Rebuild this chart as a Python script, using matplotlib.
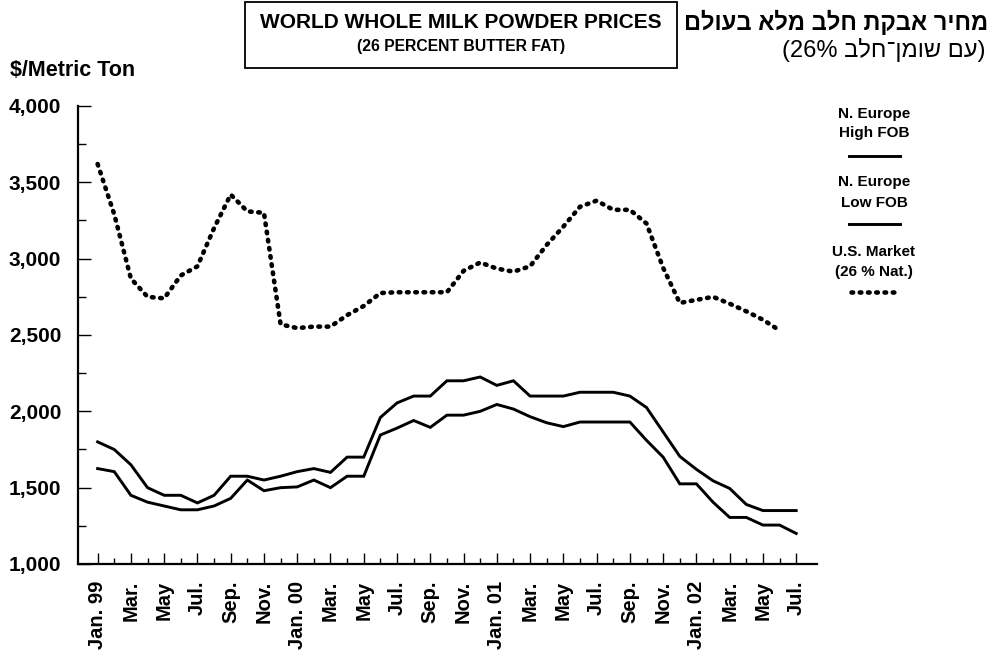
import matplotlib
matplotlib.use("Agg")
import matplotlib.pyplot as plt
from matplotlib.lines import Line2D
from matplotlib.patches import Rectangle
import numpy as np

plt.rcParams['font.family'] = ['Liberation Sans', 'DejaVu Sans']

# ---- data (monthly, Jan 1999 .. Jul 2002) ----
months = list(range(43))
high_fob = [1800, 1750, 1650, 1500, 1450, 1450, 1400, 1450, 1575, 1575, 1550, 1575,
            1605, 1625, 1600, 1700, 1700, 1960, 2055, 2100, 2100, 2200, 2200, 2225,
            2170, 2200, 2100, 2100, 2100, 2125, 2125, 2125, 2100, 2025, 1865, 1705,
            1620, 1545, 1495, 1390, 1350, 1350, 1350]
low_fob = [1625, 1605, 1450, 1405, 1380, 1355, 1355, 1380, 1430, 1550, 1480, 1500,
           1505, 1550, 1500, 1575, 1575, 1845, 1890, 1940, 1895, 1975, 1975, 2000,
           2045, 2015, 1965, 1925, 1900, 1930, 1930, 1930, 1930, 1810, 1700, 1525,
           1525, 1405, 1305, 1305, 1255, 1255, 1200]
us_market = [3620, 3290, 2870, 2750, 2740, 2890, 2950, 3200, 3420, 3310, 3300, 2570,
             2545, 2555, 2555, 2630, 2690, 2775, 2780, 2780, 2780, 2780, 2920, 2975,
             2935, 2915, 2950, 3090, 3210, 3340, 3380, 3320, 3320, 3230, 2940, 2710,
             2730, 2750, 2705, 2655, 2600, 2530]
tick_labels = ["Jan. 99", "Mar.", "May", "Jul.", "Sep.", "Nov.",
               "Jan. 00", "Mar.", "May", "Jul.", "Sep.", "Nov.",
               "Jan. 01", "Mar.", "May", "Jul.", "Sep.", "Nov.",
               "Jan. 02", "Mar.", "May", "Jul."]
y_ticks = [1000, 1500, 2000, 2500, 3000, 3500, 4000]

W, H = 991, 653
fig = plt.figure(figsize=(W / 100, H / 100), dpi=100)

def fx(px):
    return px / W

def fy(py):
    return 1 - py / H

ax_l, ax_r, ax_t, ax_b = 78, 817, 106, 564
ax = fig.add_axes([fx(ax_l), fy(ax_b), fx(ax_r) - fx(ax_l), fy(ax_t) - fy(ax_b)])

ax.plot(months[:len(high_fob)], high_fob, color='black', lw=2.1, solid_joinstyle='miter')
ax.plot(months[:len(low_fob)], low_fob, color='black', lw=2.1, solid_joinstyle='miter')
ax.plot(months[:len(us_market)], us_market, color='black', lw=3.3,
        linestyle=(0, (0.35, 1.45)), dash_capstyle='round')

ax.set_xlim(-1.18, 43.25)
ax.set_ylim(1000, 4000)

ax.spines['top'].set_visible(False)
ax.spines['right'].set_visible(False)
ax.spines['left'].set_linewidth(1.6)
ax.spines['bottom'].set_linewidth(1.6)

ax.set_xticks(months[::2])
ax.set_xticklabels(tick_labels, rotation=90, fontsize=14.5, fontweight='bold', va='top', ha='center')
ax.set_xticks(months[1::2], minor=True)
ax.set_yticks(y_ticks)
ax.set_yticklabels([f"{v:,}" for v in y_ticks], fontsize=15, fontweight='bold')
ax.set_yticks(np.arange(1250, 4000, 500), minor=True)

ax.tick_params(axis='x', which='major', direction='in', length=8, width=1.0, pad=12)
ax.tick_params(axis='x', which='minor', direction='in', length=4, width=1.0)
ax.tick_params(axis='y', which='major', direction='in', length=9, width=1.0, pad=12)
ax.tick_params(axis='y', which='minor', direction='in', length=6, width=1.0)

# y-axis unit label
fig.text(fx(10), fy(71), "$/Metric Ton", fontsize=15.5, fontweight='bold', ha='left', va='center')

# title box
fig.patches.append(Rectangle((fx(245), fy(68)), fx(677) - fx(245), fy(2) - fy(68),
                             transform=fig.transFigure, fill=False, lw=1.3, ec='black'))
fig.text(fx(461), fy(22), "WORLD WHOLE MILK POWDER PRICES", fontsize=15,
         fontweight='bold', ha='center', va='center')
fig.text(fx(461), fy(46), "(26 PERCENT BUTTER FAT)", fontsize=11.3,
         fontweight='bold', ha='center', va='center')

# Hebrew title (visual order)
heb1 = "מחיר אבקת חלב מלא בעולם"[::-1]
heb2 = "(" + "26%" + " " + "עם שומן־חלב"[::-1] + ")"
fig.text(fx(988), fy(22), heb1, fontsize=17, fontweight='bold', ha='right', va='center')
fig.text(fx(986), fy(50), heb2, fontsize=17, ha='right', va='center')

# legend
cx = 874
leg = [("N. Europe", "High FOB", 114, 133, 156, 'solid'),
       ("N. Europe", "Low FOB", 182, 203, 224, 'solid'),
       ("U.S. Market", "(26 % Nat.)", 252, 272, 292, 'dot')]
for t1, t2, y1, y2, yl, st in leg:
    fig.text(fx(cx), fy(y1), t1, fontsize=11, fontweight='bold', ha='center', va='center')
    fig.text(fx(cx), fy(y2), t2, fontsize=11, fontweight='bold', ha='center', va='center')
    if st == 'solid':
        fig.lines.append(Line2D([fx(849), fx(900)], [fy(yl), fy(yl)], transform=fig.transFigure,
                                color='black', lw=2.1))
    else:
        fig.lines.append(Line2D([fx(851), fx(896)], [fy(yl), fy(yl)], transform=fig.transFigure,
                                color='black', lw=3.3, linestyle=(0, (0.35, 1.45)),
                                dash_capstyle='round'))

fig.savefig("out.png", dpi=100)
